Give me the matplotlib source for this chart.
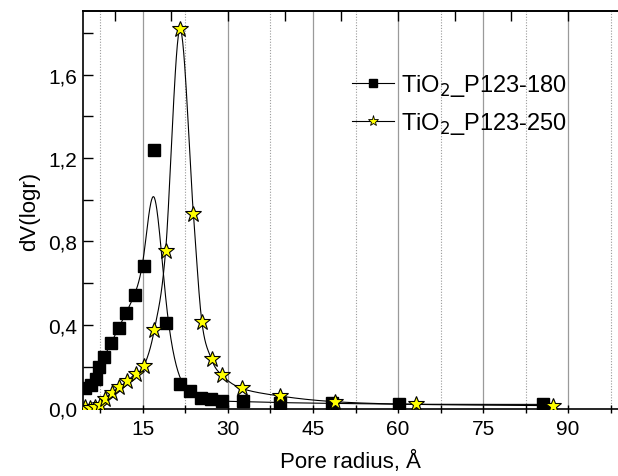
import numpy as np
import matplotlib
matplotlib.use("Agg")
import matplotlib.pyplot as plt
from matplotlib.ticker import MultipleLocator, FixedLocator, FuncFormatter

plt.rcParams['font.family'] = ['Liberation Sans', 'DejaVu Sans']

# pore radius (A) and dV(logr)
r_180 = [4.8, 5.8, 6.8, 7.2, 8.2, 9.4, 10.7, 12.05, 13.6, 15.2, 17.0, 19.1, 21.5,
         23.3, 25.2, 27.0, 29.0, 32.7, 39.2, 48.3, 60.2, 85.6]
dv_180 = [0.096, 0.112, 0.14, 0.20, 0.247, 0.314, 0.383, 0.458, 0.545, 0.68, 1.24, 0.407, 0.116,
          0.085, 0.051, 0.046, 0.033, 0.033, 0.027, 0.024, 0.019, 0.019]

r_250 = [4.7, 5.6, 6.5, 7.35, 8.35, 9.5, 10.8, 12.2, 13.7, 15.2, 17.0, 19.0, 21.5,
         23.9, 25.4, 27.1, 28.9, 32.4, 39.2, 48.8, 63.1, 87.4]
dv_250 = [0.006, 0.003, 0.006, 0.016, 0.045, 0.075, 0.10, 0.13, 0.167, 0.204, 0.375, 0.753, 1.818,
          0.933, 0.415, 0.236, 0.16, 0.096, 0.059, 0.032, 0.019, 0.013]

labels = [r'TiO$_2$_P123-180', r'TiO$_2$_P123-250']


def bspline(x, y, n=30):
    """uniform cubic B-spline with clamped ends (like Origin's B-spline line)"""
    px = np.r_[x[0], x[0], x, x[-1], x[-1]]
    py = np.r_[y[0], y[0], y, y[-1], y[-1]]
    t = np.linspace(0, 1, n)
    b0 = (1 - t) ** 3 / 6
    b1 = (3 * t ** 3 - 6 * t ** 2 + 4) / 6
    b2 = (-3 * t ** 3 + 3 * t ** 2 + 3 * t + 1) / 6
    b3 = t ** 3 / 6
    xs, ys = [], []
    for i in range(len(px) - 3):
        xs.append(b0 * px[i] + b1 * px[i + 1] + b2 * px[i + 2] + b3 * px[i + 3])
        ys.append(b0 * py[i] + b1 * py[i + 1] + b2 * py[i + 2] + b3 * py[i + 3])
    return np.concatenate(xs), np.concatenate(ys)


def catmull(x, y, n=30):
    """interpolating spline through the points"""
    px = np.r_[x[0], x, x[-1]]
    py = np.r_[y[0], y, y[-1]]
    t = np.linspace(0, 1, n)[:, None]
    xs, ys = [], []
    for i in range(len(px) - 3):
        p = np.array([[px[i + k], py[i + k]] for k in range(4)])
        c = 0.5 * ((2 * p[1]) + (-p[0] + p[2]) * t
                   + (2 * p[0] - 5 * p[1] + 4 * p[2] - p[3]) * t ** 2
                   + (-p[0] + 3 * p[1] - 3 * p[2] + p[3]) * t ** 3)
        xs.append(c[:, 0])
        ys.append(c[:, 1])
    return np.concatenate(xs), np.concatenate(ys)


fig = plt.figure(figsize=(6.18, 4.77), dpi=100)
ax = fig.add_axes([0.134, 0.1405, 0.866, 0.8345])

# grid: solid at major, dotted at minor
for v in np.arange(15, 100, 15):
    ax.axvline(v, color='#9a9a9a', lw=0.9, zorder=0)
for v in np.arange(7.5, 100, 15):
    ax.axvline(v, color='#9a9a9a', lw=0.8, ls=(0, (1, 1.5)), zorder=0)

lx, ly = bspline(np.array(r_180), np.array(dv_180))
ax.plot(lx, ly, color='black', lw=0.8, zorder=2)
lx, ly = catmull(np.array(r_250), np.array(dv_250))
ax.plot(lx, ly, color='black', lw=0.8, zorder=2)

ax.plot(r_180, dv_180, ls='none', marker='s', ms=8.5, mfc='black', mec='black', zorder=3)
ax.plot(r_250, dv_250, ls='none', marker='*', ms=12, mfc='yellow', mec='black', mew=0.8, zorder=3)

# legend handles
h1, = ax.plot([], [], color='black', lw=0.8, marker='s', ms=6, mfc='black', mec='black')
h2, = ax.plot([], [], color='black', lw=0.8, marker='*', ms=8, mfc='yellow', mec='black', mew=0.6)
ax.legend([h1, h2], labels, loc='upper left', bbox_to_anchor=(0.485, 0.87), frameon=False,
          fontsize=17, handlelength=1.8, handletextpad=0.3, labelspacing=0.5,
          borderaxespad=0)

ax.set_xlim(4.4, 98.8)
ax.set_ylim(-0.003, 1.905)
ax.xaxis.set_major_locator(MultipleLocator(15))
ax.xaxis.set_minor_locator(MultipleLocator(7.5))
ax.yaxis.set_major_locator(MultipleLocator(0.4))
ax.yaxis.set_minor_locator(MultipleLocator(0.2))
ax.yaxis.set_major_formatter(FuncFormatter(lambda v, p: f'{v:.1f}'.replace('.', ',')))
ax.tick_params(axis='y', which='both', direction='in', length=7, width=1, labelsize=15, pad=4)
ax.tick_params(axis='x', which='both', direction='inout', length=6, width=1, labelsize=15, pad=4)
ax.spines['right'].set_visible(False)
for s in ['left', 'bottom', 'top']:
    ax.spines[s].set_linewidth(1.2)

top = ax.secondary_xaxis('top')
top.xaxis.set_major_locator(FixedLocator(np.arange(10, 100, 10)))
top.tick_params(direction='in', length=7, width=1, labeltop=False)
top.spines['top'].set_linewidth(1.2)

ax.set_xlabel('Pore radius, Å', fontsize=16, labelpad=9)
ax.set_ylabel('dV(logr)', fontsize=16, labelpad=6)

fig.savefig('out.png', dpi=100)
